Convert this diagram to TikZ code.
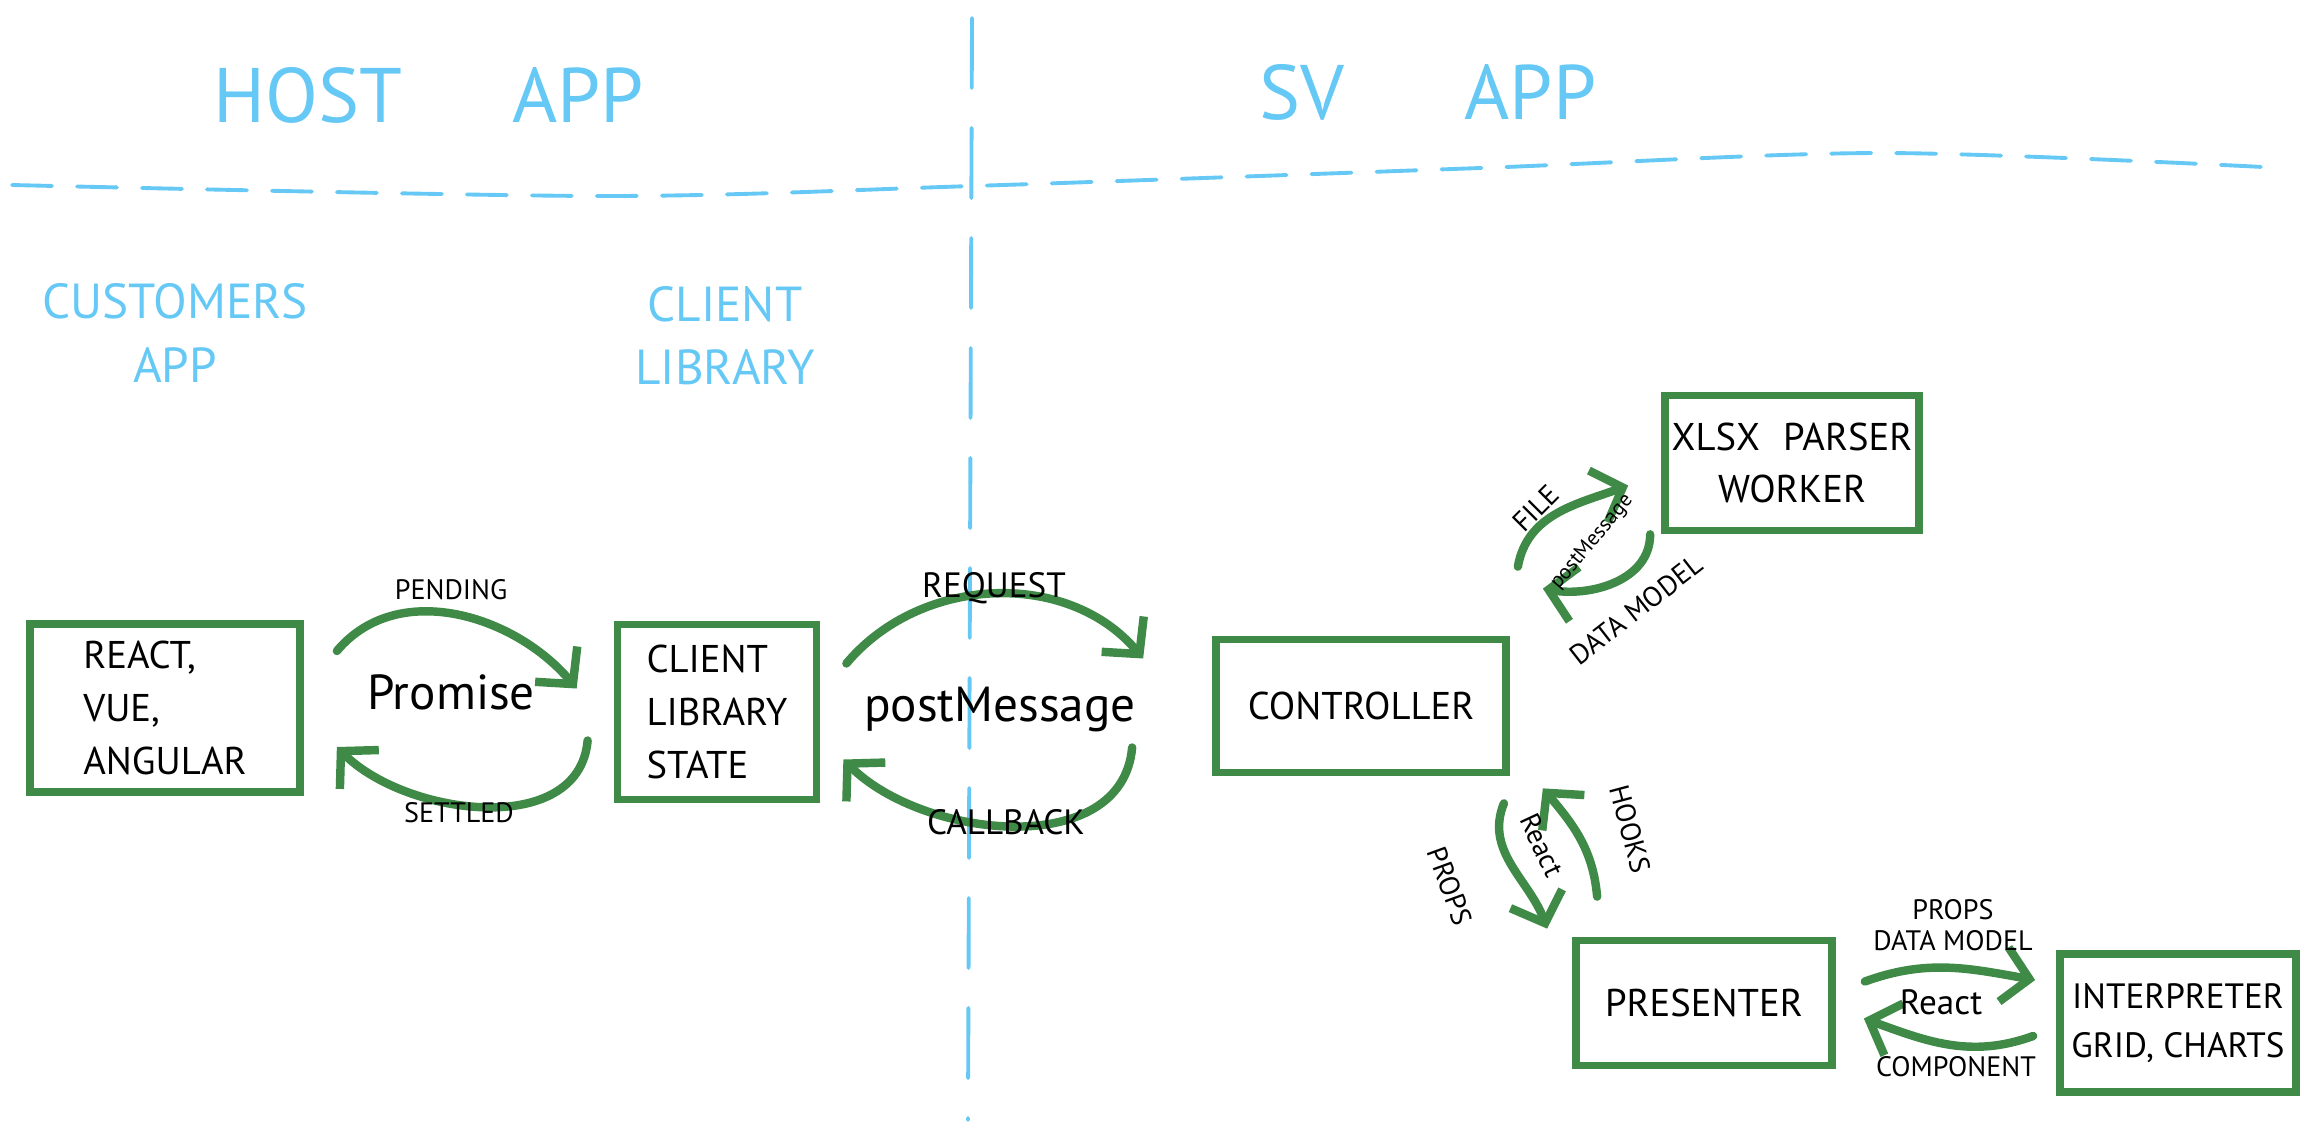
\documentclass[tikz,border=0pt]{standalone}
\usepackage{fontspec}
\setmainfont{PT Sans}
\usetikzlibrary{arrows.meta}
\definecolor{penGreen}{RGB}{62,138,70}
\definecolor{penBlue}{RGB}{102,200,245}

\begin{document}
\begin{tikzpicture}[
        box/.style={draw=penGreen, line width=2.2pt, inner sep=0pt, align=left, font=\fontsize{11}{15}\selectfont},
        flow/.style={draw=penGreen, line width=2.4pt, line cap=round, -{Straight Barb[length=2.6mm,width=5.5mm]}},
        tag/.style={font=\fontsize{8}{9}\selectfont, inner sep=1pt},
        big/.style={font=\fontsize{14}{16}\selectfont},
        title/.style={text=penBlue, font=\fontsize{22}{24}\selectfont},
        side/.style={text=penBlue, font=\fontsize{14}{18}\selectfont, align=center},
        divider/.style={draw=penBlue, line width=1.1pt, line cap=round}
    ]
    \useasboundingbox (0,0) rectangle (23.2,-11.34);

    \node[title] (host) at (4.29,-0.95) {HOST\hspace{1.1cm}APP};
    \node[title] (sv) at (14.28,-0.92) {SV\hspace{1.2cm}APP};
    \node[side] (custApp) at (1.75,-3.33) {CUSTOMERS\\APP};
    \node[side] (clientLib) at (7.25,-3.36) {CLIENT\\LIBRARY};

    \draw[divider, dash pattern=on 4mm off 2.5mm] plot[smooth] coordinates {(0.12,-1.85) (6.0,-1.96) (9.72,-1.86) (14.8,-1.68) (18.8,-1.53) (22.63,-1.67)};
    \draw[divider, dash pattern=on 7mm off 4mm] (9.72,-0.18) -- (9.68,-11.2);

    \node[box, minimum width=2.7cm, minimum height=1.68cm] (react) at (1.65,-7.08) {REACT,\\VUE,\\ANGULAR};
    \node[box, minimum width=1.99cm, minimum height=1.75cm] (state) at (7.17,-7.12) {CLIENT\\LIBRARY\\STATE};
    \node[box, minimum width=2.9cm, minimum height=1.33cm] (ctrl) at (13.61,-7.06) {CONTROLLER};
    \node[box, minimum width=2.54cm, minimum height=1.35cm, align=center] (worker) at (17.92,-4.63) {XLSX\hspace{0.6em}PARSER\\WORKER};
    \node[box, minimum width=2.56cm, minimum height=1.25cm] (presenter) at (17.04,-10.03) {PRESENTER};
    \node[box, minimum width=2.36cm, minimum height=1.38cm, align=center, font=\fontsize{10}{14}\selectfont] (interp) at (21.78,-10.23) {INTERPRETER\\GRID, CHARTS};

    \draw[flow] ([shift={(0.33,0.57)}]react.east) to[out=50,in=130] ([shift={(-0.37,0.235)}]state.west);
    \draw[flow] ([shift={(-0.26,-0.285)}]state.west) to[out=-95,in=-45] ([shift={(0.33,-0.39)}]react.east);
    \node[tag] (pending) at (4.51,-5.9) {PENDING};
    \node[big] (promise) at (4.51,-6.92) {Promise};
    \node[tag] (settled) at (4.59,-8.13) {SETTLED};

    \draw[flow] ([shift={(0.26,0.485)}]state.east) to[out=50,in=130] ([shift={(-0.69,0.475)}]ctrl.west);
    \draw[flow] ([shift={(-0.8,-0.415)}]ctrl.west) to[out=-95,in=-45] ([shift={(0.23,-0.475)}]state.east);
    \node[tag, font=\fontsize{10}{11}\selectfont] (request) at (9.94,-5.88) {REQUEST};
    \node[big] (postMsg) at (10.0,-7.09) {postMessage};
    \node[tag, font=\fontsize{10}{11}\selectfont] (callback) at (10.06,-8.22) {CALLBACK};

    \draw[flow] ([shift={(0.08,0.69)}]ctrl.north east) to[out=80,in=-160] ([shift={(-0.33,-0.225)}]worker.west);
    \draw[flow] ([shift={(-0.11,0)}]worker.south west) to[out=-90,in=-10] ([shift={(0.33,0.47)}]ctrl.north east);
    \node[tag, rotate=45] (fileLbl) at (15.36,-5.08) {FILE};
    \node[tag, rotate=50, font=\fontsize{6}{7}\selectfont] (workerMsg) at (15.92,-5.42) {postMessage};
    \node[tag, rotate=38] (modelLbl) at (16.36,-6.1) {DATA MODEL};

    \draw[flow] ([shift={(-0.06,-0.27)}]ctrl.south east) to[out=-112,in=110] ([shift={(-0.25,0.08)}]presenter.north west);
    \draw[flow] ([shift={(0.25,0.4)}]presenter.north west) to[out=95,in=-50] ([shift={(0.33,-0.12)}]ctrl.south east);
    \node[tag, rotate=-70] (propsLbl) at (14.5,-8.86) {PROPS};
    \node[tag, rotate=-65, font=\fontsize{8}{9}\selectfont] (reactLbl) at (15.42,-8.45) {React};
    \node[tag, rotate=-75] (hooksLbl) at (16.3,-8.29) {HOOKS};

    \draw[flow] ([shift={(0.29,0.215)}]presenter.east) to[out=20,in=170] ([shift={(-0.21,0.43)}]interp.west);
    \draw[flow] ([shift={(-0.23,-0.13)}]interp.west) to[out=-160,in=-20] ([shift={(0.28,-0.155)}]presenter.east);
    \node[tag, align=center] (dataLbl) at (19.53,-9.25) {PROPS\\DATA MODEL};
    \node[tag, font=\fontsize{10}{11}\selectfont] (reactComp) at (19.41,-10.02) {React};
    \node[tag] (compLbl) at (19.56,-10.67) {COMPONENT};
\end{tikzpicture}
\end{document}
